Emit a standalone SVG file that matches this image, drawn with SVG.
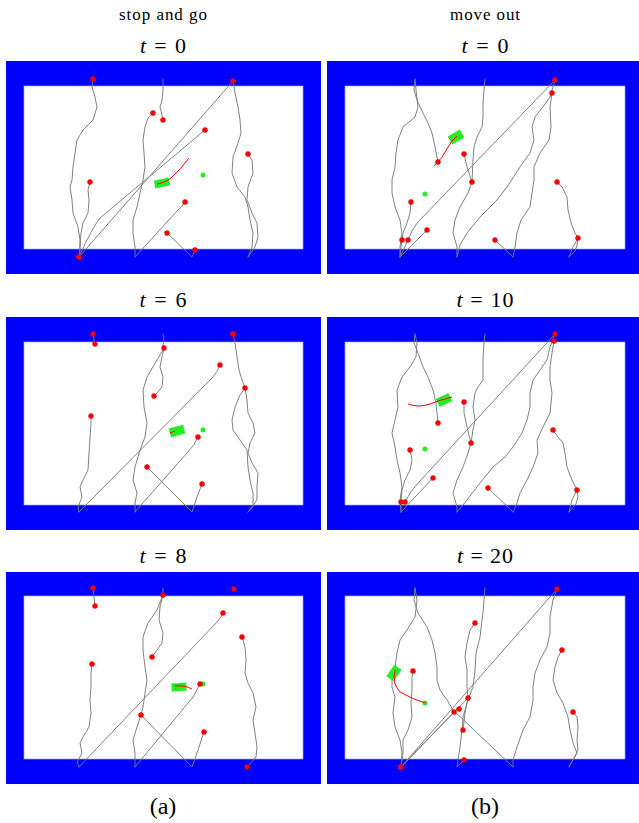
<svg xmlns="http://www.w3.org/2000/svg" width="639" height="823" viewBox="0 0 639 823">
<style>
.frame{fill:#0000ff}
.inner{fill:#ffffff;stroke:#a0a0ff;stroke-width:0.7}
.tr{fill:none;stroke:#7a7a7a;stroke-width:0.95;stroke-linejoin:round;stroke-linecap:round}
.rt{fill:none;stroke:#ff0000;stroke-width:1}
.rd{fill:#ff0000;stroke:#d00000;stroke-width:0.5}
.gd{fill:#22ee22}
.gr{fill:#22ee22}
.hd{font-family:"Liberation Serif",serif;font-size:17px;fill:#000;text-anchor:middle}
.tl{font-family:"Liberation Serif",serif;font-size:22px;fill:#000;text-anchor:middle}
.cap{font-family:"Liberation Serif",serif;font-size:24px;fill:#000;text-anchor:middle}
</style>

<text class="hd" x="163" y="20" textLength="88">stop and go</text>
<text class="hd" x="485" y="20" textLength="70">move out</text>

<!-- ===== Panel a, t=0 ===== -->
<g id="panel-a0">
<rect class="frame" x="6" y="61" width="315" height="213"/>
<rect class="inner" x="24" y="86" width="279" height="163"/>
<text class="tl" x="163" y="53" textLength="46"><tspan font-style="italic">t</tspan> = 0</text>
<g class="tr">
<polyline points="93,79 92,87 95,97 97,107 93,120 83,130 77,140 75,153 73,167 72,180 70,187 72,200 73,213 78,227 80,240 80,257"/>
<polyline points="90,182 88,190 89,200 88,213 83,223 81,233 80,247 79,257"/>
<path d="M79,257 L233,81"/>
<path d="M79,257 Q92,228 100,218 L205,130"/>
<polyline points="163,79 163,90 162,100 160,107 162,115 163,120"/>
<polyline points="153,113 148,118 145,127 143,140 144,153 145,167 143,180 140,193 137,207 133,220 133,233 135,247 135,257"/>
<path d="M135,257 L178,210 Q182,207 185,202"/>
<polyline points="167,233 192,257 195,250"/>
<polyline points="233,81 235,93 238,107 240,120 241,133 238,143 233,157 232,173 237,187 245,197 248,207 250,220 253,233 252,247 248,257"/>
<polyline points="248,154 252,160 253,173 248,187 247,200 252,213 257,223 258,237 255,247 248,257"/>
</g>
<circle class="gd" cx="203" cy="175" r="2.5"/>
<rect class="gr" x="-7.5" y="-4" width="15" height="8" transform="translate(162,183) rotate(-12)"/>
<path class="rt" d="M157,184 Q167,182 172,177 Q181,169 189,158"/>
<g class="rd">
<circle cx="93" cy="79" r="2.5"/><circle cx="90" cy="182" r="2.5"/><circle cx="79" cy="257" r="2.8"/>
<circle cx="233" cy="81" r="2.5"/><circle cx="205" cy="130" r="2.5"/><circle cx="153" cy="113" r="2.5"/>
<circle cx="163" cy="120" r="2.5"/><circle cx="185" cy="202" r="2.5"/><circle cx="167" cy="233" r="2.5"/>
<circle cx="195" cy="250" r="2.5"/><circle cx="248" cy="154" r="2.5"/>
</g>
</g>

<!-- ===== Panel b, t=0 ===== -->
<g id="panel-b0">
<rect class="frame" x="327" y="61" width="316" height="213"/>
<rect class="inner" x="345" y="86" width="280" height="163"/>
<text class="tl" x="485" y="53" textLength="47"><tspan font-style="italic">t</tspan> = 0</text>
<g class="tr">
<polyline points="415,79 416,90 418,107 415,117 403,127 398,140 396,153 395,167 392,180 392,193 395,207 400,220 402,233 400,247 400,257"/>
<polyline points="415,79 414,90 417,100 423,113 428,123 432,133 435,147 438,162"/>
<polyline points="485,79 484,90 483,103 483,117 482,127 477,137 474,147 473,160 472,182 468,193 460,207 455,220 453,233 457,247 457,257"/>
<polyline points="464,154 467,167 472,182"/>
<polyline points="555,80 550,97 542,108 535,117 532,127 534,140 530,153 520,167 507,187 497,200 480,217 467,233 460,245 457,257"/>
<polyline points="552,93 550,107 551,127 549,140 540,153 534,167 534,180 532,193 530,207 521,220 517,233 515,247 513,257"/>
<path d="M408,240 Q412,229 418,222 L555,80"/>
<path d="M400,257 L427,230"/>
<polyline points="411,202 410,213 407,223 403,233 402,240"/>
<polyline points="400,257 402,240"/>
<polyline points="400,257 408,240"/>
<polyline points="495,240 513,257"/>
<polyline points="557,182 562,187 567,197 568,210 571,223 575,233 578,238 573,247 569,257"/>
<polyline points="578,238 577,245 575,251 569,257"/>
</g>
<circle class="gd" cx="425" cy="194" r="2.5"/>
<rect class="gr" x="-7" y="-4.5" width="14" height="9" transform="translate(456,137) rotate(-30)"/>
<path class="rt" d="M434,166 Q443,158 448,147 Q452,140 457,136"/>
<g class="rd">
<circle cx="555" cy="80" r="2.5"/><circle cx="552" cy="93" r="2.5"/><circle cx="438" cy="162" r="2.5"/>
<circle cx="464" cy="154" r="2.5"/><circle cx="472" cy="182" r="2.5"/><circle cx="411" cy="202" r="2.5"/>
<circle cx="402" cy="240" r="2.5"/><circle cx="408" cy="240" r="2.5"/><circle cx="427" cy="230" r="2.5"/>
<circle cx="495" cy="240" r="2.5"/><circle cx="557" cy="182" r="2.5"/><circle cx="578" cy="238" r="2.5"/>
</g>
</g>

<!-- ===== Panel a, t=6 ===== -->
<g id="panel-a6">
<rect class="frame" x="6" y="317" width="315" height="213"/>
<rect class="inner" x="24" y="342" width="279" height="163"/>
<text class="tl" x="163" y="307" textLength="47"><tspan font-style="italic">t</tspan> = 6</text>
<g class="tr">
<polyline points="93,334 95,344"/>
<polyline points="91,416 91,423 90,437 89,453 88,470 83,480 80,487 82,497 78,507 79,512"/>
<path d="M79,512 L213,377 Q218,371 220,365"/>
<polyline points="163,334 164,341 163,345 164,348"/>
<polyline points="164,348 162,357 160,367 163,377 162,387 157,393 154,396"/>
<polyline points="164,348 157,360 147,377 143,390 144,407 147,423 145,437 140,450 135,467 133,480 137,493 135,503 135,512"/>
<path d="M135,512 L187,453 Q195,445 198,437"/>
<polyline points="147,467 192,512 197,497 202,484"/>
<polyline points="233,334 235,343 237,357 239,370 242,380 245,388"/>
<polyline points="245,388 240,395 235,407 232,420 233,430 240,440 247,450 248,467 250,480 253,493 253,507 248,512"/>
<polyline points="245,388 247,400 248,413 253,423 255,433 250,443 248,453 252,463 258,473 257,487 257,500 248,512"/>
</g>
<circle class="gd" cx="203" cy="430" r="2.5"/>
<rect class="gr" x="-7.5" y="-4.5" width="15" height="9" transform="translate(177,431) rotate(-15)"/>
<path class="rt" d="M170,433 L175,431"/>
<g class="rd">
<circle cx="93" cy="334" r="2.5"/><circle cx="95" cy="344" r="2.5"/><circle cx="91" cy="416" r="2.5"/>
<circle cx="220" cy="365" r="2.5"/><circle cx="164" cy="348" r="2.5"/><circle cx="154" cy="396" r="2.5"/>
<circle cx="198" cy="437" r="2.5"/><circle cx="147" cy="467" r="2.5"/><circle cx="202" cy="484" r="2.5"/>
<circle cx="233" cy="334" r="2.8"/><circle cx="245" cy="388" r="2.5"/>
</g>
</g>

<!-- ===== Panel b, t=10 ===== -->
<g id="panel-b10">
<rect class="frame" x="327" y="317" width="316" height="213"/>
<rect class="inner" x="345" y="342" width="280" height="163"/>
<text class="tl" x="485" y="307" textLength="57"><tspan font-style="italic">t</tspan> = 10</text>
<g class="tr">
<polyline points="415,334 417,343 416,357 410,367 402,377 397,390 398,407 395,420 392,433 395,447 397,460 400,473 402,487 400,500 401,512"/>
<polyline points="415,334 414,343 418,353 423,367 428,377 433,390 436,403 437,413 438,423"/>
<polyline points="485,334 484,343 483,357 483,370 483,380 478,387 475,393 473,407 475,420 473,430 471,443 468,453 463,467 457,480 453,493 457,507 457,512"/>
<polyline points="464,402 464,413 467,427 471,443"/>
<polyline points="555,334 550,347 547,360 540,370 533,380 530,393 530,407 527,420 522,433 513,447 505,457 493,467 480,483 467,500 457,512"/>
<polyline points="554,341 552,353 550,367 550,380 552,393 550,413 543,427 537,440 538,453 533,467 527,480 520,493 517,503 513,512"/>
<polyline points="488,488 513,512"/>
<path d="M405,502 Q410,491 420,481 L555,334"/>
<path d="M401,512 L433,478"/>
<polyline points="410,450 412,460 410,470 405,480 402,490 401,502 401,512"/>
<polyline points="553,430 558,437 563,443 565,453 567,467 572,480 577,490 572,500 569,512"/>
<polyline points="577,490 578,497 576,504 569,512"/>
</g>
<circle class="gd" cx="425" cy="449" r="2.5"/>
<rect class="gr" x="-7" y="-4.5" width="14" height="9" transform="translate(444,400) rotate(-25)"/>
<path class="rt" d="M408,404 Q418,408 430,404 Q440,400 452,397"/>
<g class="rd">
<circle cx="555" cy="334" r="2.5"/><circle cx="554" cy="341" r="2.5"/><circle cx="438" cy="423" r="2.5"/>
<circle cx="464" cy="402" r="2.5"/><circle cx="471" cy="443" r="2.5"/><circle cx="410" cy="450" r="2.5"/>
<circle cx="401" cy="502" r="2.5"/><circle cx="405" cy="502" r="2.5"/><circle cx="433" cy="478" r="2.5"/>
<circle cx="488" cy="488" r="2.5"/><circle cx="553" cy="430" r="2.5"/><circle cx="577" cy="490" r="2.5"/>
</g>
</g>

<!-- ===== Panel a, t=8 ===== -->
<g id="panel-a8">
<rect class="frame" x="6" y="572" width="315" height="212"/>
<rect class="inner" x="24" y="596" width="279" height="163"/>
<text class="tl" x="163" y="563" textLength="47"><tspan font-style="italic">t</tspan> = 8</text>
<g class="tr">
<polyline points="93,588 95,606"/>
<polyline points="92,664 91,673 91,687 90,700 91,713 89,727 83,737 80,743 82,753 77,762 79,767"/>
<path d="M79,767 L217,622 Q221,618 223,613"/>
<polyline points="163,588 163,595"/>
<polyline points="163,595 160,607 159,620 163,633 162,643 157,650 152,657"/>
<polyline points="163,595 157,610 148,623 143,637 143,650 145,667 147,680 145,693 143,707 141,715 137,727 133,740 135,753 135,767"/>
<polyline points="141,715 192,767 197,753 204,732"/>
<path d="M135,767 L193,697 Q197,690 200,684"/>
<polyline points="242,637 245,647 246,660 245,673 248,683 253,693 256,707 253,720 255,733 257,747 256,757 247,767"/>
</g>
<circle class="gd" cx="203" cy="684" r="2.5"/>
<rect class="gr" x="-7.5" y="-4" width="15" height="8" transform="translate(179,687) rotate(-3)"/>
<path class="rt" d="M175,686 Q185,685 192,689"/>
<g class="rd">
<circle cx="93" cy="588" r="2.5"/><circle cx="95" cy="606" r="2.5"/><circle cx="92" cy="664" r="2.5"/>
<circle cx="223" cy="613" r="2.5"/><circle cx="163" cy="595" r="2.5"/><circle cx="152" cy="657" r="2.5"/>
<circle cx="141" cy="715" r="2.5"/><circle cx="204" cy="732" r="2.5"/><circle cx="200" cy="684" r="2.5"/>
<circle cx="234" cy="589" r="2.5"/><circle cx="242" cy="637" r="2.5"/><circle cx="247" cy="767" r="2.5"/>
</g>
</g>

<!-- ===== Panel b, t=20 ===== -->
<g id="panel-b20">
<rect class="frame" x="327" y="572" width="316" height="212"/>
<rect class="inner" x="345" y="596" width="280" height="163"/>
<text class="tl" x="485" y="563" textLength="56"><tspan font-style="italic">t</tspan> = 20</text>
<g class="tr">
<polyline points="415,588 417,600 415,617 407,630 400,640 397,653 395,667 392,680 392,687 395,697 393,713 395,727 400,740 402,753 401,767"/>
<polyline points="415,588 414,600 418,613 427,627 432,640 435,653 437,667 437,680 440,690 447,700 453,710 513,767"/>
<polyline points="485,588 484,600 483,613 482,620 480,637 476,653 475,670 473,687 468,700 463,717 462,730 460,747 457,767 464,760"/>
<polyline points="475,623 470,630 467,643 465,657 467,670 467,687 468,698 465,713 463,730"/>
<path d="M401,767 L468,698"/>
<path d="M401,767 L454,712"/>
<path d="M401,767 L557,589"/>
<polyline points="557,589 553,600 550,617 550,633 547,647 540,660 535,673 533,687 533,700 530,717 523,730 517,747 513,760 513,767"/>
<polyline points="562,650 558,657 555,667 553,680 557,693 563,703 568,717 570,730 573,743 577,753 573,760 569,767"/>
<polyline points="573,712 577,717 578,727 577,740 578,750 573,760 569,767"/>
<polyline points="413,671 412,677 412,690 411,703 412,717 408,730 403,740 403,753 401,767"/>
</g>
<circle class="gd" cx="425" cy="703" r="2.5"/>
<rect class="gr" x="-7" y="-4.5" width="14" height="9" transform="translate(394,673) rotate(-55)"/>
<path class="rt" d="M395,670 Q392,684 400,692 Q412,699 425,703"/>
<g class="rd">
<circle cx="557" cy="589" r="2.5"/><circle cx="475" cy="623" r="2.5"/><circle cx="413" cy="671" r="2.5"/>
<circle cx="468" cy="698" r="2.5"/><circle cx="454" cy="712" r="2.5"/><circle cx="459" cy="709" r="2.5"/>
<circle cx="463" cy="730" r="2.5"/><circle cx="464" cy="760" r="2.5"/><circle cx="401" cy="767" r="2.8"/>
<circle cx="562" cy="650" r="2.5"/><circle cx="573" cy="712" r="2.5"/>
</g>
</g>

<text class="cap" x="163" y="814">(a)</text>
<text class="cap" x="485" y="814">(b)</text>
</svg>
